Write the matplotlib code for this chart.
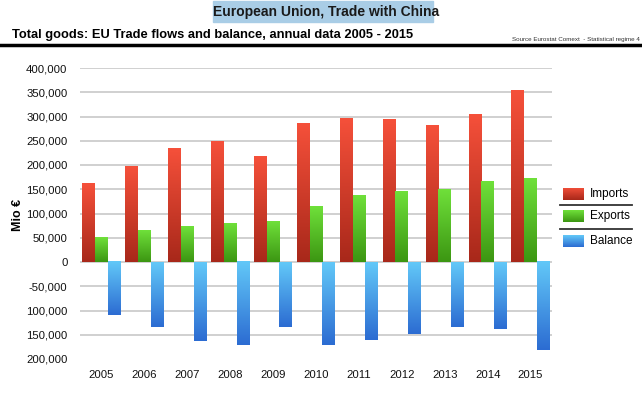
import numpy as np
import matplotlib
matplotlib.use('Agg')
import matplotlib.pyplot as plt
from matplotlib.colors import LinearSegmentedColormap
from matplotlib.patches import Rectangle

plt.rcParams['font.family'] = ['Liberation Sans', 'DejaVu Sans']

# Data (Mio €)
years = ['2005', '2006', '2007', '2008', '2009', '2010', '2011', '2012', '2013', '2014', '2015']
imports = [161000, 197000, 235000, 249000, 217000, 285000, 296000, 293000, 281000, 304000, 353000]
exports = [51000, 64000, 73000, 79000, 83000, 114000, 138000, 145000, 150000, 165000, 172000]
balance = [-110000, -133000, -162000, -172000, -133000, -171000, -160000, -148000, -133000, -138000, -182000]
series_names = ['Imports', 'Exports', 'Balance']
yticks = [400000, 350000, 300000, 250000, 200000, 150000, 100000, 50000, 0,
          -50000, -100000, -150000, -200000]
ytick_labels = ['400,000', '350,000', '300,000', '250,000', '200,000', '150,000',
                '100,000', '50,000', '0', '-50,000', '100,000', '150,000', '200,000']

# gradient colours (top, bottom)
grads = [('#f5503a', '#a8281a'), ('#6fe03a', '#3c9612'), ('#62c8f8', '#2c6cd2')]

fig = plt.figure(figsize=(6.42, 3.93), dpi=100)
ax = fig.add_axes([80 / 642, 1 - 359 / 393, 472 / 642, 291 / 393])

x = np.arange(len(years))
w = 0.297

def grad_bars(bars, top, bottom):
    cmap = LinearSegmentedColormap.from_list('g', [bottom, top])
    img = np.linspace(0, 1, 100).reshape(-1, 1)
    for b in bars:
        x0, y0 = b.get_x(), b.get_y()
        x1, y1 = x0 + b.get_width(), y0 + b.get_height()
        lo, hi = min(y0, y1), max(y0, y1)
        ax.imshow(img, cmap=cmap, origin='lower', aspect='auto',
                  extent=(x0, x1, lo, hi), zorder=3, interpolation='bilinear')
        b.set_alpha(0)

for i, vals in enumerate([imports, exports, balance]):
    bars = ax.bar(x + (i - 1) * w, vals, w, zorder=3, linewidth=0)
    grad_bars(bars, *grads[i])

ax.set_xlim(-0.5, len(years) - 0.5)
ax.set_ylim(-200000, 400000)

for yv in yticks[:-1]:
    ax.axhline(yv, color='#c8c8c8', linewidth=1.2, zorder=1)

ax.set_yticks(yticks)
ax.set_yticklabels(ytick_labels)
ax.set_xticks(x)
ax.set_xticklabels(years)
ax.tick_params(axis='both', length=0, labelsize=8.2, colors='#111111')
ax.tick_params(axis='y', pad=9)
ax.tick_params(axis='x', pad=8)
for s in ax.spines.values():
    s.set_visible(False)
fig.text(18 / 642, 1 - 215 / 393, 'Mio €', fontsize=9, fontweight='bold',
         rotation=90, ha='center', va='center')

# legend
leg_x0 = 563 / 642
legend_rows = [(194, 205), (216, 229), (241, None)]
for i, name in enumerate(series_names):
    yc, ysep = legend_rows[i]
    cmap = LinearSegmentedColormap.from_list('g', [grads[i][1], grads[i][0]])
    lax = fig.add_axes([leg_x0, 1 - (yc + 6) / 393, 21 / 642, 12 / 393])
    lax.imshow(np.linspace(0, 1, 50).reshape(-1, 1), cmap=cmap, origin='lower', aspect='auto')
    lax.axis('off')
    fig.text(590 / 642, 1 - yc / 393, name, fontsize=8.5, va='center', ha='left')
    if ysep:
        fig.add_artist(plt.Line2D([560 / 642, 632 / 642], [1 - ysep / 393] * 2,
                                  color='#333333', linewidth=1.3))

# titles
fig.add_artist(Rectangle((213 / 642, 1 - 22 / 393), 220 / 642, 21 / 393,
                         transform=fig.transFigure, color='#a9cde6', zorder=0))
fig.text(326 / 642, 1 - 12 / 393, 'European Union, Trade with China', fontsize=10,
         fontweight='bold', ha='center', va='center', color='#1a1a1a')
fig.text(12 / 642, 1 - 35 / 393, 'Total goods: EU Trade flows and balance, annual data 2005 - 2015',
         fontsize=9.3, fontweight='bold', ha='left', va='center')
fig.text(640 / 642, 1 - 40 / 393, 'Source Eurostat Comext  - Statistical regime 4',
         fontsize=4.5, ha='right', va='center', color='#333333')
fig.add_artist(plt.Line2D([0, 1], [1 - 45 / 393] * 2, color='black', linewidth=2.5))

fig.savefig('out.png', dpi=100)
